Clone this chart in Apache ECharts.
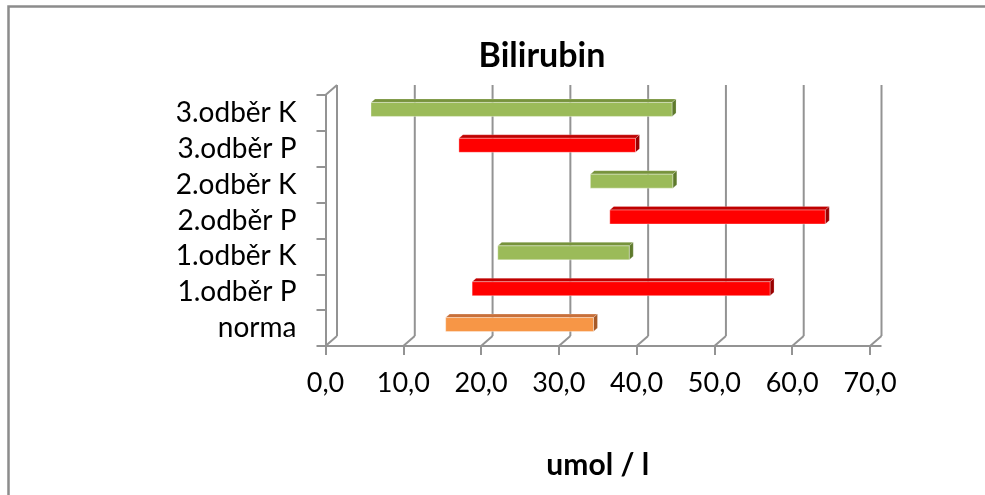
<!DOCTYPE html>
<html>
<head>
<meta charset="utf-8">
<script src="https://cdn.jsdelivr.net/npm/echarts@6/dist/echarts.min.js"></script>
<style>html,body{margin:0;padding:0;background:#fff}#c{width:985px;height:495px}</style>
</head>
<body>
<div id="c"></div>
<script>
// ---- data ----
var categories = ['norma', '1.odběr P', '1.odběr K', '2.odběr P', '2.odběr K', '3.odběr P', '3.odběr K'];
var startValues = [15.0, 18.4, 21.7, 36.1, 33.6, 16.7, 5.4];
var endValues   = [34.0, 56.7, 38.6, 63.8, 44.2, 39.4, 44.1];
var barKinds    = ['norma', 'P', 'K', 'P', 'K', 'P', 'K'];
var xTicks      = [0, 10, 20, 30, 40, 50, 60, 70];
var titleText = 'Bilirubin';
var xAxisName = 'umol / l';

// ---- styles ----
var palette = {
  norma: { front: '#F79646', top: '#C8703A', side: '#A65A28' },
  P:     { front: '#FF0000', top: '#C00000', side: '#9A0000' },
  K:     { front: '#9BBB59', top: '#77933C', side: '#5E7A2C' }
};
var DX = 11.5, DY = -10;       // depth of 3D box
var BOX = 3.5;                  // bar front offset into depth
var BD = 4, BDY = -3.5;         // bar depth
var BH = 14;                    // bar front height
var gridColor = '#939393';
var FONT = 'Lato';

var chart = echarts.init(document.getElementById('c'));

var barData = categories.map(function (c, i) { return [startValues[i], endValues[i], i]; });

function renderBar(params, api) {
  var s = api.value(0), e = api.value(1), idx = api.value(2);
  var p0 = api.coord([s, idx]);
  var p1 = api.coord([e, idx]);
  var col = palette[barKinds[idx]];
  var x0 = p0[0] + BOX, x1 = p1[0] + BOX;
  var yc = p0[1] - BOX;
  var yT = yc - BH / 2, yB = yc + BH / 2;
  return {
    type: 'group',
    children: [
      { type: 'polygon', shape: { points: [[x0, yT], [x1, yT], [x1 + BD, yT + BDY], [x0 + BD, yT + BDY]] },
        style: { fill: col.top, stroke: 'rgba(255,255,255,0.35)', lineWidth: 0.6 } },
      { type: 'polygon', shape: { points: [[x1, yT], [x1 + BD, yT + BDY], [x1 + BD, yB + BDY], [x1, yB]] },
        style: { fill: col.side, stroke: 'rgba(255,255,255,0.35)', lineWidth: 0.6 } },
      { type: 'rect', shape: { x: x0, y: yT, width: x1 - x0, height: BH },
        style: { fill: col.front, stroke: 'rgba(255,255,255,0.45)', lineWidth: 0.8 } }
    ]
  };
}

function renderGrid(params, api) {
  var v = api.value(0);
  var cs = params.coordSys;
  var x = api.coord([v, 0])[0];
  var top = cs.y, bot = cs.y + cs.height;
  var ls = { stroke: gridColor, lineWidth: 2 };
  var children = [
    { type: 'line', shape: { x1: x + DX, y1: top + DY, x2: x + DX, y2: bot + DY }, style: ls },
    { type: 'line', shape: { x1: x, y1: bot, x2: x + DX, y2: bot + DY }, style: ls }
  ];
  if (v === xTicks[0]) {
    children.push({ type: 'line', shape: { x1: x, y1: top, x2: x + DX, y2: top + DY }, style: ls });
  }
  if (v === xTicks[xTicks.length - 1]) {
    children.push({ type: 'line', shape: { x1: cs.x - 8, y1: bot, x2: x + DX, y2: bot }, style: ls });
  }
  return { type: 'group', children: children };
}

chart.setOption({
  animation: false,
  backgroundColor: '#fff',
  grid: { left: 325.5, right: 115, top: 95, bottom: 149 },
  graphic: [
    { type: 'rect', shape: { x: 8.5, y: 6.5, width: 1200, height: 1200 },
      style: { fill: 'none', stroke: '#8c8c8c', lineWidth: 2.5 }, z: 100 },
    { type: 'text', x: 542, y: 56, style: { text: titleText, font: 'bold 34px ' + FONT,
      fill: '#000', textAlign: 'center', textVerticalAlign: 'middle' } }
  ],
  xAxis: {
    type: 'value', min: 0, max: 70, interval: 10,
    name: xAxisName, nameLocation: 'middle', nameGap: 104,
    nameTextStyle: { fontFamily: FONT, fontWeight: 'bold', fontSize: 30, color: '#000' },
    axisLine: { show: true, lineStyle: { color: gridColor, width: 2 } },
    axisTick: { show: true, length: 9, lineStyle: { color: gridColor, width: 2 } },
    splitLine: { show: false },
    axisLabel: { margin: 24, fontFamily: FONT, fontSize: 27, color: '#000', hideOverlap: false,
      formatter: function (v) { return v.toFixed(1).replace('.', ','); } }
  },
  yAxis: {
    type: 'category', data: categories,
    axisLine: { show: true, lineStyle: { color: gridColor, width: 2 } },
    axisTick: { show: true, length: 9, interval: 0, lineStyle: { color: gridColor, width: 2 } },
    axisLabel: { margin: 29, interval: 0, hideOverlap: false, fontFamily: FONT, fontSize: 28, color: '#000',
      padding: [5, 0, 0, 0] },
    splitLine: { show: false }
  },
  series: [
    { type: 'custom', renderItem: renderGrid, data: xTicks.map(function (t) { return [t]; }),
      encode: { x: 0 }, silent: true, z: 1, clip: false },
    { type: 'custom', renderItem: renderBar, data: barData,
      encode: { x: [0, 1], y: 2 }, z: 5, clip: false }
  ]
});
</script>
</body>
</html>
